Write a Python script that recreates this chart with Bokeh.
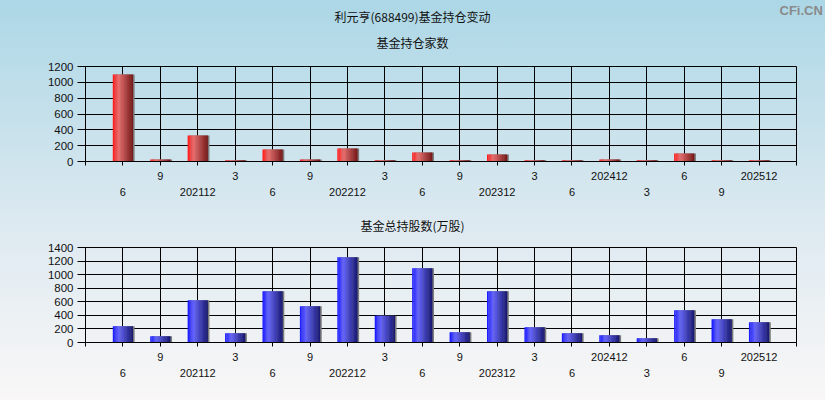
from bokeh.plotting import figure
from bokeh.layouts import column
from bokeh.models import FixedTicker, LinearAxis, Title
from bokeh.embed import file_html
from bokeh.resources import INLINE

# ---------------- data ----------------
periods = ["202106", "202109", "202112", "202203", "202206", "202209", "202212",
           "202303", "202306", "202309", "202312", "202403", "202406", "202412",
           "202503", "202506", "202509", "202512"]
fund_count = [1100, 25, 328, 15, 152, 25, 164, 15, 114, 15, 88, 15, 15, 25, 15, 101, 15, 15]
fund_shares = [241, 93, 624, 138, 756, 535, 1257, 393, 1095, 152, 756, 226, 138, 108,
               64, 476, 344, 300]
count_ticks = [0, 200, 400, 600, 800, 1000, 1200]
shares_ticks = [0, 200, 400, 600, 800, 1000, 1200, 1400]

main_title = "利元亨(688499)基金持仓变动"
count_title = "基金持仓家数"
shares_title = "基金总持股数(万股)"
watermark = "CFi.CN"

# ---------------- style ----------------
LATIN = "Liberation Sans"
CJK = "Noto Sans CJK SC"
RED_STOPS = [(0.0, (255, 22, 22)), (0.3, (236, 112, 112)), (1.0, (118, 22, 22))]
BLUE_STOPS = [(0.0, (22, 22, 255)), (0.3, (102, 102, 255)), (1.0, (22, 22, 112))]
BAR_W = 0.535
N_STRIPS = 16
W = 825
LEFT, RIGHT = 85, 29
FRAME_H = 95


def interp(stops, t):
    for (t0, c0), (t1, c1) in zip(stops[:-1], stops[1:]):
        if t0 <= t <= t1:
            f = (t - t0) / (t1 - t0)
            return "#%02x%02x%02x" % tuple(int(round(a + (b - a) * f)) for a, b in zip(c0, c1))
    return "#%02x%02x%02x" % stops[-1][1]


def short_label(p):
    return p if p.endswith("12") else str(int(p[4:]))


def add_title(p, text, left_edge, standoff, font=CJK, size="12px", color="#111111",
              style="normal", valign="bottom"):
    p.add_layout(Title(text=text, align="left", offset=left_edge - LEFT, standoff=standoff,
                       vertical_align=valign, text_font=font, text_font_size=size,
                       text_font_style=style, text_color=color), "above")


def make_chart(values, ticks, stops, height, top_border):
    n = len(periods)
    xs = list(range(1, n + 1))
    p = figure(width=W, height=height, x_range=(0, n + 1), y_range=(ticks[0], ticks[-1]),
               output_backend="svg", toolbar_location=None, tools="",
               min_border_left=LEFT, min_border_right=RIGHT,
               min_border_top=top_border, min_border_bottom=height - top_border - FRAME_H)
    p.background_fill_color = None
    p.border_fill_color = None
    p.outline_line_color = "black"
    p.outline_line_width = 1

    p.xgrid.ticker = FixedTicker(ticks=xs)
    p.xgrid.grid_line_color = "black"
    p.xgrid.grid_line_alpha = 1
    p.ygrid.ticker = FixedTicker(ticks=ticks)
    p.ygrid.grid_line_color = "black"
    p.ygrid.grid_line_alpha = 1

    ya = p.yaxis[0]
    ya.ticker = FixedTicker(ticks=ticks)
    ya.major_tick_out = 8
    ya.major_tick_in = 0
    ya.minor_tick_line_color = None
    ya.major_label_standoff = 4
    ya.axis_line_color = "black"
    ya.major_tick_line_color = "black"
    ya.major_label_text_font = LATIN
    ya.major_label_text_font_size = "11.5px"
    ya.major_label_text_color = "#111111"

    all_ticks = list(range(0, n + 2))
    xa = p.xaxis[0]
    xa.ticker = FixedTicker(ticks=all_ticks)
    xa.major_label_overrides = {
        t: (short_label(periods[t - 1]) if 1 <= t <= n and t % 2 == 0 else "") for t in all_ticks}
    xa.major_tick_out = 4
    xa.major_tick_in = 0
    xa.minor_tick_line_color = None
    xa.axis_line_color = "black"
    xa.major_tick_line_color = "black"
    xa.major_label_standoff = 6
    xa.major_label_text_font = LATIN
    xa.major_label_text_font_size = "11px"
    xa.major_label_text_color = "#111111"

    odd_ticks = [t for t in xs if t % 2 == 1]
    xb = LinearAxis(ticker=FixedTicker(ticks=odd_ticks),
                    major_label_overrides={t: short_label(periods[t - 1]) for t in odd_ticks})
    xb.axis_line_color = None
    xb.major_tick_line_color = None
    xb.minor_tick_line_color = None
    xb.major_tick_out = 0
    xb.major_tick_in = 0
    xb.major_label_standoff = 5
    xb.major_label_text_font = LATIN
    xb.major_label_text_font_size = "11px"
    xb.major_label_text_color = "#111111"
    p.add_layout(xb, "below")

    p.vbar(x=[x + 0.045 for x in xs], top=values, bottom=0, width=BAR_W,
           fill_color="#7a7a7a", line_color=None)
    sw = BAR_W / N_STRIPS
    for k in range(N_STRIPS):
        off = -BAR_W / 2 + (k + 0.5) * sw
        col = interp(stops, (k + 0.5) / N_STRIPS)
        p.vbar(x=[x + off for x in xs], top=values, bottom=0, width=sw * 1.2,
               fill_color=col, line_color=None)
    return p


# top chart: frame at y 66..161
p1 = make_chart(fund_count, count_ticks, RED_STOPS, 203, 66)
add_title(p1, count_title, 376, 32)
add_title(p1, main_title, 334, -19)
add_title(p1, watermark, 779, -5, font=LATIN, size="13px", color="#8a8a8a", style="bold")

# bottom chart: frame at y 247..342 (figure starts at 203)
p2 = make_chart(fund_shares, shares_ticks, BLUE_STOPS, 197, 44)
add_title(p2, shares_title, 360, 24, valign="top")

layout = column(p1, p2, spacing=0, width=W, height=400,
                styles={"background": "linear-gradient(to bottom, #acd7e6 0%, #dce9f0 55%, #f9f7f7 100%)"})

open("out.html", "w").write(file_html(layout, INLINE))
